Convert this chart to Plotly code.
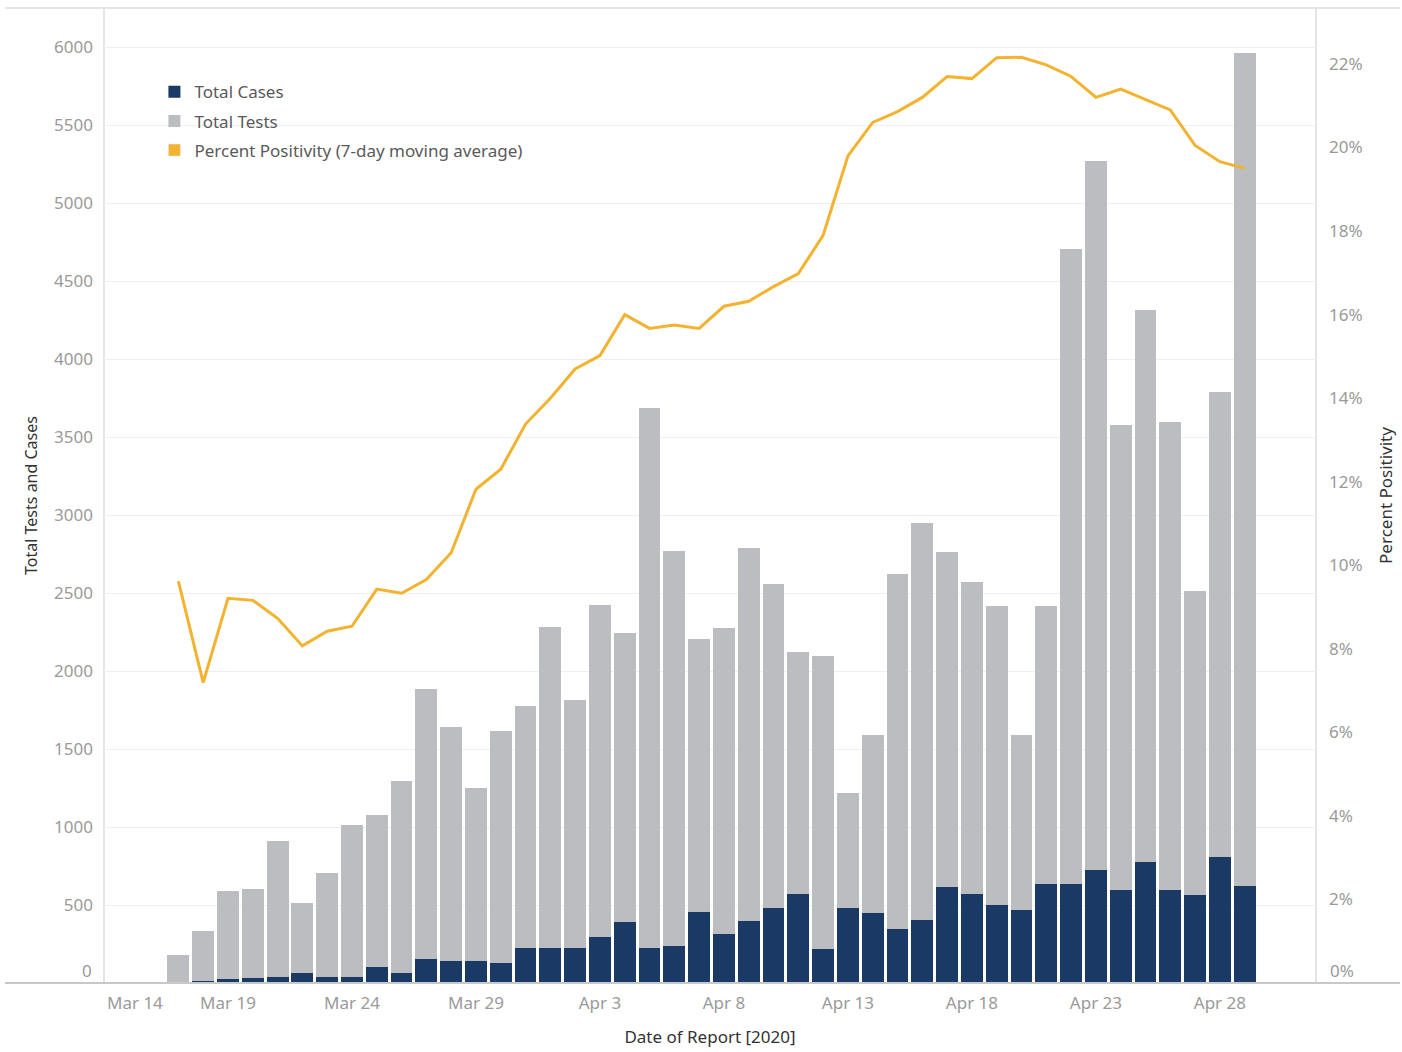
import plotly.graph_objects as go

dates = [
    "2020-03-17", "2020-03-18", "2020-03-19", "2020-03-20", "2020-03-21", "2020-03-22",
    "2020-03-23", "2020-03-24", "2020-03-25", "2020-03-26", "2020-03-27", "2020-03-28",
    "2020-03-29", "2020-03-30", "2020-03-31", "2020-04-01", "2020-04-02", "2020-04-03",
    "2020-04-04", "2020-04-05", "2020-04-06", "2020-04-07", "2020-04-08", "2020-04-09",
    "2020-04-10", "2020-04-11", "2020-04-12", "2020-04-13", "2020-04-14", "2020-04-15",
    "2020-04-16", "2020-04-17", "2020-04-18", "2020-04-19", "2020-04-20", "2020-04-21",
    "2020-04-22", "2020-04-23", "2020-04-24", "2020-04-25", "2020-04-26", "2020-04-27",
    "2020-04-28", "2020-04-29",
]

total_tests = [
    180, 335, 592, 605, 912, 515, 707, 1015, 1079, 1295, 1885, 1640,
    1251, 1613, 1778, 2281, 1815, 2421, 2241, 3685, 2768, 2202, 2278, 2790,
    2559, 2124, 2099, 1221, 1590, 2620, 2949, 2760, 2572, 2417, 1590, 2416,
    4706, 5271, 3574, 4317, 3598, 2510, 3790, 5959,
]

total_cases = [
    0, 12, 28, 30, 40, 66, 40, 40, 105, 66, 154, 138,
    143, 130, 222, 222, 222, 296, 389, 222, 236, 453, 313, 400,
    484, 573, 216, 484, 446, 344, 407, 613, 573, 497, 465, 636,
    636, 727, 597, 778, 597, 562, 805, 625,
]

pct_positivity = [
    0.0962, 0.0719, 0.0921, 0.0916, 0.0873, 0.0807, 0.0842, 0.0854, 0.0943, 0.0933, 0.0966, 0.1030,
    0.1182, 0.1230, 0.1338, 0.1400, 0.1470, 0.1502, 0.1600, 0.1567, 0.1575, 0.1567, 0.1620, 0.1632,
    0.1667, 0.1698, 0.1790, 0.1980, 0.2060, 0.2086, 0.2120, 0.2170, 0.2165, 0.2215, 0.2216, 0.2198,
    0.2170, 0.2120, 0.2140, 0.2115, 0.2090, 0.2005, 0.1966, 0.1950,
]

tick_dates = ["2020-03-14", "2020-03-19", "2020-03-24", "2020-03-29", "2020-04-03",
              "2020-04-08", "2020-04-13", "2020-04-18", "2020-04-23", "2020-04-28"]
tick_labels = ["Mar 14", "Mar 19", "Mar 24", "Mar 29", "Apr 3",
               "Apr 8", "Apr 13", "Apr 18", "Apr 23", "Apr 28"]

left_ticks = [0, 500, 1000, 1500, 2000, 2500, 3000, 3500, 4000, 4500, 5000, 5500, 6000]
right_ticks = [0, 0.02, 0.04, 0.06, 0.08, 0.10, 0.12, 0.14, 0.16, 0.18, 0.20, 0.22]

NAVY = "#1a3964"
GREY = "#bcbdc0"
GOLD = "#f3b330"
TICK_COLOR = "#9a9a9a"
FONT = "Noto Sans"

bar_width = 0.88 * 86400000

fig = go.Figure()

fig.add_trace(go.Bar(
    x=dates, y=total_tests, name="Total Tests", marker_color=GREY,
    marker_line_width=0, width=bar_width, legendrank=2, legendgroup="b",
))
fig.add_trace(go.Bar(
    x=dates, y=total_cases, name="Total Cases", marker_color=NAVY,
    marker_line_width=0, width=bar_width, legendrank=1, legendgroup="a",
))
fig.add_trace(go.Scatter(
    x=dates, y=pct_positivity, name="Percent Positivity (7-day moving average)",
    mode="lines", line=dict(color=GOLD, width=3), yaxis="y2", showlegend=False,
))
# legend swatch for the line series (square like the original)
fig.add_trace(go.Bar(
    x=[None], y=[None], name="Percent Positivity (7-day moving average)",
    marker_color=GOLD, yaxis="y2", legendrank=3, legendgroup="c",
))

W, H = 1402, 1052
L, R, T, B = 104, 1316, 8, 983

# edge labels are nudged inward (as in the original) so they don't collide
x_ticktext = [""] + tick_labels[1:]
left_ticktext = [""] + [str(v) for v in left_ticks[1:]]
right_ticktext = [""] + [f"{round(v * 100)}%" for v in right_ticks[1:]]

tickfont = dict(family=FONT, size=17, color=TICK_COLOR)
annotations = [
    dict(text=tick_labels[0], xref="paper", yref="paper", x=(135 - L) / (R - L), y=0,
         xanchor="center", yanchor="top", yshift=-6, showarrow=False, font=tickfont),
    dict(text=str(left_ticks[0]), xref="paper", yref="y", x=0, y=left_ticks[0],
         xanchor="right", yanchor="middle", xshift=-10, yshift=13, showarrow=False, font=tickfont),
    dict(text=f"{right_ticks[0]:.0%}", xref="paper", yref="y2", x=1, y=right_ticks[0],
         xanchor="left", yanchor="middle", xshift=12, yshift=13, showarrow=False, font=tickfont),
]

fig.update_layout(
    width=W, height=H,
    margin=dict(l=L, r=W - R, t=T, b=H - B, autoexpand=False),
    plot_bgcolor="white", paper_bgcolor="white",
    barmode="overlay", bargap=0,
    font=dict(family=FONT, size=17, color="#555555"),
    showlegend=True,
    legend=dict(
        x=0.0416, y=0.932, xanchor="left", yanchor="top",
        bgcolor="rgba(0,0,0,0)", borderwidth=0,
        traceorder="grouped", tracegroupgap=4,
        font=dict(family=FONT, size=17, color="#5a5a5a"),
    ),
    xaxis=dict(
        type="date",
        range=["2020-03-14", "2020-05-01 21:00"],
        tickvals=tick_dates, ticktext=x_ticktext,
        tickfont=tickfont,
        showgrid=False, zeroline=False, showline=False,
        ticks="", ticklabelstandoff=8,
        title=dict(text="Date of Report [2020]", standoff=18,
                   font=dict(family=FONT, size=17, color="#333333")),
    ),
    yaxis=dict(
        range=[0, 6250], tickvals=left_ticks, ticktext=left_ticktext,
        tickfont=tickfont,
        showgrid=True, gridcolor="#efefef", gridwidth=1,
        zeroline=False, showline=False, ticks="", ticklabelstandoff=10,
        title=dict(text="Total Tests and Cases", standoff=12,
                   font=dict(family=FONT, size=16, color="#333333")),
    ),
    yaxis2=dict(
        overlaying="y", side="right",
        range=[0, 0.2334], tickvals=right_ticks, ticktext=right_ticktext,
        tickfont=tickfont,
        showgrid=False, zeroline=False, showline=False, ticks="", ticklabelstandoff=12,
        title=dict(text="Percent Positivity", standoff=18,
                   font=dict(family=FONT, size=17, color="#333333")),
    ),
    annotations=annotations,
    shapes=[
        # pane borders
        dict(type="line", xref="paper", yref="paper", x0=(5 - L) / (R - L), x1=(1400 - L) / (R - L),
             y0=0, y1=0, line=dict(color="#c8c8c8", width=2), layer="above"),
        dict(type="line", xref="paper", yref="paper", x0=(5 - L) / (R - L), x1=(1400 - L) / (R - L),
             y0=1, y1=1, line=dict(color="#dddddd", width=1.5), layer="below"),
        dict(type="line", xref="paper", yref="paper", x0=0, x1=0, y0=0, y1=1,
             line=dict(color="#dcdcdc", width=1.5), layer="below"),
        dict(type="line", xref="paper", yref="paper", x0=1, x1=1, y0=0, y1=1,
             line=dict(color="#dcdcdc", width=1.5), layer="below"),
    ],
)

fig.write_html(
    "out.html",
    config={"displayModeBar": False},
    post_script="document.body.style.margin='0';document.body.style.overflow='hidden';",
)
